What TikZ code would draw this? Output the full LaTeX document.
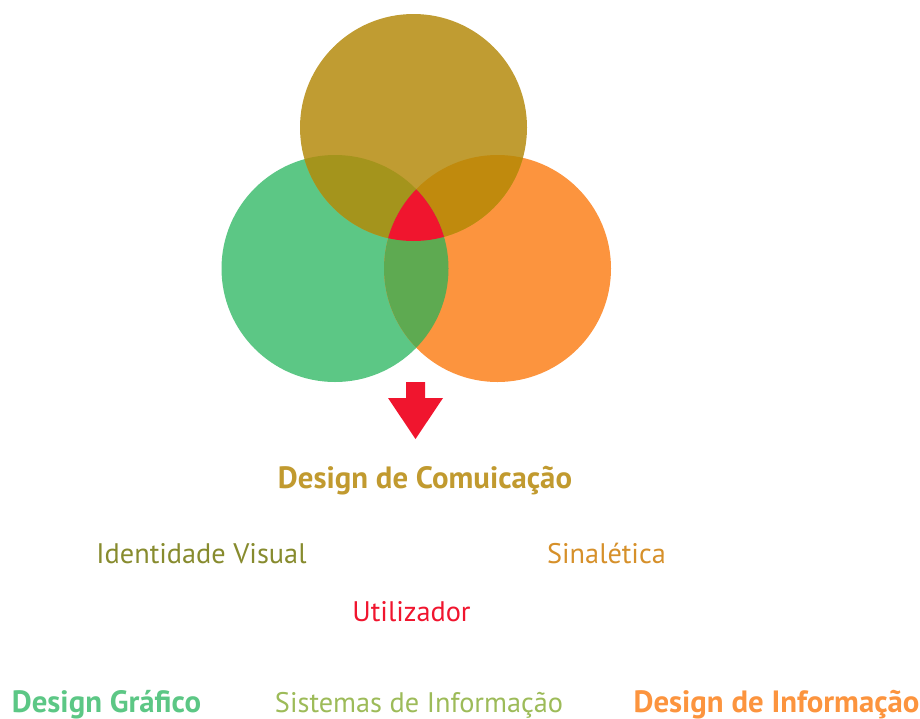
\documentclass[tikz,border=0pt]{standalone}
\usepackage{fontspec}
\setmainfont{PT Sans}
\definecolor{ctop}{HTML}{C09C32}
\definecolor{cgreen}{HTML}{5CC785}
\definecolor{corange}{HTML}{FC943E}
\definecolor{ctl}{HTML}{A4941C}
\definecolor{ctr}{HTML}{C08A0D}
\definecolor{clr}{HTML}{5EAA51}
\definecolor{cred}{HTML}{F0152E}
\definecolor{cgold}{HTML}{C19A2F}
\definecolor{colive}{HTML}{878B2E}
\definecolor{csina}{HTML}{D6902A}
\definecolor{csist}{HTML}{9DBB59}
\tikzset{
  lbl/.style={anchor=base, inner sep=0pt, font=\fontsize{28.3}{28.3}\selectfont},
  blbl/.style={anchor=base, inner sep=0pt, font=\fontsize{30.8}{30.8}\selectfont\bfseries},
}
\begin{document}
\begin{tikzpicture}[x=1pt,y=-1pt]
\useasboundingbox (0,0) rectangle (920,718);
\coordinate (cT) at (413.5,127.5);
\coordinate (cL) at (335,268.5);
\coordinate (cR) at (497.5,268.5);
\def\rad{113.5pt}
% base circles
\fill[cgreen] (cL) circle[radius=\rad];
\fill[corange] (cR) circle[radius=\rad];
\fill[ctop] (cT) circle[radius=\rad];
% pairwise overlaps
\begin{scope}
  \clip (cT) circle[radius=\rad];
  \fill[ctl] (cL) circle[radius=\rad];
  \fill[ctr] (cR) circle[radius=\rad];
\end{scope}
\begin{scope}
  \clip (cL) circle[radius=\rad];
  \fill[clr] (cR) circle[radius=\rad];
\end{scope}
% triple overlap
\begin{scope}
  \clip (cT) circle[radius=\rad];
  \clip (cL) circle[radius=\rad];
  \fill[cred] (cR) circle[radius=\rad];
\end{scope}
% arrow
\fill[cred] (406,382) -- (425,382) -- (425,398) -- (443,398) -- (415.5,439) -- (388,398) -- (406,398) -- cycle;
% labels
\node[blbl, text=cgold] (dc) at (425,488) {Design de Comuicação};
\node[lbl, text=colive] (iv) at (201.5,563) {Identidade Visual};
\node[lbl, text=csina] (si) at (606.5,563) {Sinalética};
\node[lbl, text=cred] (ut) at (411.5,621) {Utilizador};
\node[blbl, text=cgreen] (dg) at (106.5,712) {Design Gráfico};
\node[lbl, text=csist] (sd) at (419,712) {Sistemas de Informação};
\node[blbl, text=corange] (di) at (776.5,712) {Design de Informação};
\end{tikzpicture}
\end{document}
